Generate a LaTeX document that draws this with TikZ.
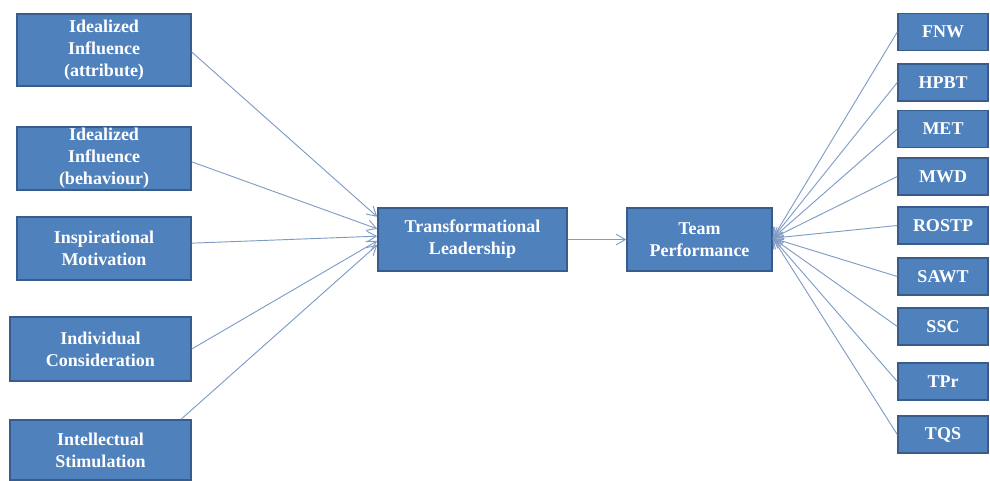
\documentclass[tikz,border=0pt]{standalone}
\usepackage{fontspec}
\setmainfont{Liberation Serif}
\usetikzlibrary{arrows.meta}
\definecolor{boxblue}{HTML}{4F81BD}
\definecolor{boxedge}{HTML}{385D8A}
\definecolor{linkblue}{HTML}{7F9CC6}
\begin{document}
\begin{tikzpicture}[x=0.75pt,y=-0.75pt,
	box/.style={rectangle,draw=boxedge,line width=1.1pt,fill=boxblue,text=white,
		font=\fontsize{13.5}{16.5}\selectfont\bfseries,align=center,inner sep=0pt},
	lbox/.style={box,minimum width=130.5pt,minimum height=47.25pt},
	rbox/.style={box,minimum width=67.5pt,minimum height=27.75pt},
	link/.style={draw=linkblue,line width=0.7pt,-{Straight Barb[length=7pt,width=8pt]}}]
	\useasboundingbox (0,0) rectangle (990,481);
	\node (ia) [lbox,minimum height=54pt] at (104,50) {Idealized\\Influence\\(attribute)};
	\node (ib) [lbox] at (104,158.5) {Idealized\\Influence\\(behaviour)};
	\node (im) [lbox] at (104,248.5) {Inspirational\\Motivation};
	\node (ic) [lbox,minimum width=135.75pt,minimum height=48pt] at (100.5,349) {Individual\\Consideration};
	\node (is) [lbox,minimum width=135.75pt,minimum height=45pt] at (100.5,450) {Intellectual\\Stimulation};
	\node (tl) [box,minimum width=141.75pt,minimum height=47.25pt] at (472.5,239.5) {Transformational\\Leadership};
	\node (tp) [box,minimum width=108.75pt,minimum height=47.25pt] at (699.5,239.5) {Team\\Performance};
	\node (fnw) [rbox] at (943,32) {FNW};
	\node (hpbt) [rbox] at (943,82.5) {HPBT};
	\node (met) [rbox] at (943,129) {MET};
	\node (mwd) [rbox] at (943,176.5) {MWD};
	\node (rostp) [rbox] at (943,225.5) {ROSTP};
	\node (sawt) [rbox] at (943,276.5) {SAWT};
	\node (ssc) [rbox] at (943,326.5) {SSC};
	\node (tpr) [rbox] at (943,381.5) {TPr};
	\node (tqs) [rbox] at (943,434.5) {TQS};
	\draw [link] ([yshift=-1.5pt]ia.east) -- ([yshift=17pt]tl.west);
	\draw [link] ([yshift=-2.5pt]ib.east) -- ([yshift=8pt]tl.west);
	\draw [link] ([yshift=4pt]im.east) -- ([yshift=2.5pt]tl.west);
	\draw [link] (ic.east) -- ([yshift=-1pt]tl.west);
	\draw [link] ([xshift=-8pt]is.north east) -- ([yshift=-4pt]tl.west);
	\draw [link] (tl) -- (tp);
	\foreach \n in {fnw,hpbt,met,mwd,rostp,sawt,ssc,tpr,tqs}
		\draw [link] (\n.west) -- ([yshift=1pt]tp.east);
\end{tikzpicture}
\end{document}
